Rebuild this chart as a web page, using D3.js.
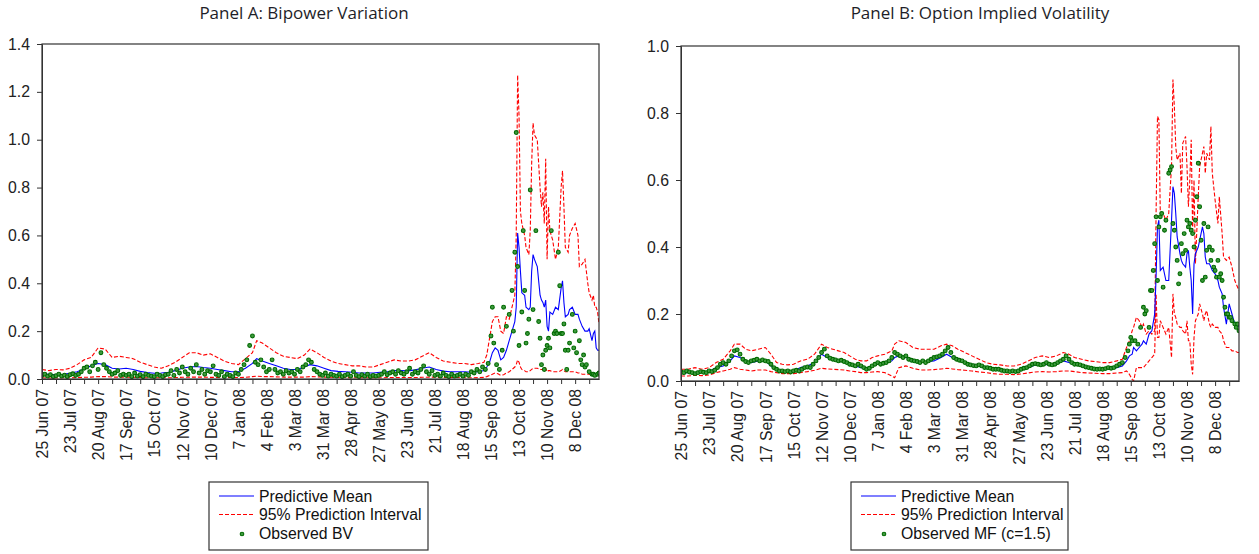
<!DOCTYPE html>
<html><head><meta charset="utf-8">
<script src="https://cdn.jsdelivr.net/npm/d3@7"></script>
<style>
body{margin:0;background:#fff;}
svg{display:block;}
text{font-family:"Liberation Sans",Arial,sans-serif;}
</style></head><body>
<svg id="c" width="1259" height="554"></svg>
<script>
// ---------- tick labels (every 20 observations) ----------
const tickLabels = ["25 Jun 07","23 Jul 07","20 Aug 07","17 Sep 07","15 Oct 07","12 Nov 07","10 Dec 07","7 Jan 08","4 Feb 08","3 Mar 08","31 Mar 08","28 Apr 08","27 May 08","23 Jun 08","21 Jul 08","18 Aug 08","15 Sep 08","13 Oct 08","10 Nov 08","8 Dec 08"];
const yTicksA = [0,0.2,0.4,0.6,0.8,1.0,1.2,1.4];
const yTicksB = [0,0.2,0.4,0.6,0.8,1.0];

// ---------- Panel A: Bipower Variation (lines) ----------
const idxA = [0,5,10,15,20,25,30,35,40,45,50,55,60,65,70,75,80,85,90,95,100,105,110,115,120,125,130,135,140,145,150,153,157,162,167,172,177,182,187,191,196,201,206,211,216,221,226,231,236,241,246,251,256,261,266,271,276,281,286,291,296,301,306,311,315,
317,319,321,323,325,327,329,331,333,335,337,338,339,340,341,342,344,345,347,348,349,350,351,353,355,356,357,358,359,360,361,362,364,366,368,370,371,372,373,375,376,378,380,382,383,385,387,389,390,392,393,394,395,396,397];
const upperA = [0.04,0.035,0.04,0.038,0.045,0.06,0.08,0.09,0.13,0.125,0.09,0.095,0.09,0.085,0.07,0.06,0.05,0.045,0.055,0.07,0.09,0.11,0.11,0.1,0.105,0.09,0.075,0.065,0.06,0.085,0.11,0.16,0.15,0.13,0.11,0.095,0.09,0.085,0.1,0.125,0.11,0.09,0.075,0.065,0.06,0.055,0.055,0.05,0.05,0.06,0.07,0.08,0.075,0.075,0.08,0.095,0.11,0.09,0.075,0.07,0.065,0.065,0.06,0.065,0.07,
0.1,0.17,0.24,0.26,0.26,0.2,0.19,0.26,0.25,0.3,0.35,0.6,1.27,1.1,0.7,0.65,0.6,0.55,0.52,0.62,0.9,1.07,1.02,1.0,0.8,0.72,0.78,0.65,0.92,0.5,0.72,0.62,0.58,0.5,0.55,0.8,0.87,0.72,0.55,0.53,0.6,0.63,0.65,0.6,0.47,0.48,0.5,0.4,0.36,0.33,0.35,0.3,0.3,0.28,0.23];
const meanA = [0.022,0.02,0.018,0.02,0.024,0.03,0.042,0.055,0.065,0.06,0.045,0.042,0.045,0.04,0.032,0.027,0.024,0.025,0.028,0.035,0.045,0.05,0.052,0.048,0.045,0.04,0.035,0.03,0.03,0.045,0.065,0.085,0.075,0.065,0.055,0.045,0.04,0.04,0.05,0.06,0.055,0.045,0.035,0.032,0.03,0.028,0.025,0.025,0.025,0.028,0.03,0.035,0.035,0.034,0.038,0.045,0.05,0.04,0.033,0.03,0.03,0.03,0.028,0.03,0.035,
0.05,0.07,0.11,0.13,0.12,0.08,0.09,0.12,0.16,0.2,0.24,0.3,0.61,0.55,0.45,0.36,0.35,0.3,0.29,0.3,0.45,0.52,0.5,0.47,0.35,0.33,0.32,0.3,0.33,0.22,0.2,0.28,0.27,0.3,0.29,0.38,0.41,0.32,0.26,0.27,0.29,0.3,0.27,0.27,0.25,0.22,0.2,0.2,0.21,0.16,0.19,0.2,0.13,0.12,0.12];
const lowerA = [0.005,0.004,0.004,0.005,0.005,0.006,0.007,0.008,0.01,0.01,0.008,0.008,0.008,0.007,0.006,0.005,0.005,0.005,0.005,0.006,0.007,0.008,0.008,0.008,0.007,0.007,0.006,0.006,0.006,0.007,0.01,0.012,0.01,0.01,0.009,0.008,0.008,0.008,0.008,0.01,0.009,0.008,0.007,0.006,0.006,0.005,0.005,0.005,0.005,0.005,0.006,0.006,0.006,0.006,0.006,0.007,0.008,0.007,0.006,0.006,0.006,0.006,0.005,0.006,0.007,
0.01,0.015,0.02,0.025,0.022,0.015,0.018,0.025,0.03,0.04,0.05,0.06,0.08,0.07,0.05,0.04,0.035,0.03,0.03,0.035,0.04,0.045,0.045,0.045,0.04,0.04,0.04,0.035,0.045,0.03,0.035,0.035,0.03,0.03,0.03,0.035,0.04,0.035,0.03,0.03,0.03,0.03,0.03,0.025,0.025,0.02,0.02,0.02,0.02,0.015,0.015,0.015,0.012,0.01,0.01];

// ---------- Panel A: observed BV ----------
const obsIdxA = d3.range(0, 315, 2).concat([316,318,320,321,322,324,326,328,329,331,333,335,336,337,338,339,340,342,343,344,345,346,347,348,350,352,354,355,356,357,358,359,360,361,362,363,365,366,367,368,369,370,371,372,373,374,375,376,378,379,380,381,383,384,385,386,387,388,390,392,393,394,396,397]);
const obsA = [0.015,0.02,0.012,0.018,0.01,0.014,0.02,0.012,0.016,0.01,0.018,0.022,0.015,0.02,0.03,
0.045,0.05,0.03,0.055,0.07,0.04,0.11,0.06,0.045,0.03,0.02,0.025,0.035,0.015,0.02,
0.015,0.02,0.01,0.025,0.012,0.018,0.01,0.02,0.015,0.012,0.01,0.02,0.015,0.01,0.018,
0.02,0.035,0.015,0.04,0.025,0.05,0.03,0.02,0.045,0.03,0.06,0.025,0.04,0.02,0.035,
0.03,0.055,0.02,0.015,0.03,0.01,0.02,0.015,0.01,0.025,0.02,0.04,0.06,0.08,0.14,
0.18,0.07,0.06,0.08,0.05,0.03,0.04,0.08,0.04,0.025,0.03,0.02,0.035,0.025,0.03,
0.02,0.04,0.03,0.05,0.06,0.08,0.07,0.04,0.03,0.02,0.015,0.025,0.012,0.02,0.015,
0.012,0.02,0.01,0.015,0.02,0.012,0.03,0.015,0.01,0.018,0.012,0.02,0.01,0.015,0.012,
0.015,0.02,0.03,0.018,0.025,0.03,0.02,0.035,0.025,0.02,0.03,0.045,0.02,0.03,0.025,
0.04,0.055,0.03,0.02,0.035,0.015,0.02,0.012,0.025,0.015,0.01,0.02,0.012,0.015,0.02,
0.012,0.02,0.015,0.03,0.025,0.04,0.03,0.05,
0.04,0.065,0.18,0.3,0.15,0.06,0.04,0.12,0.3,0.22,0.27,0.37,0.2,0.53,1.03,0.47,0.14,0.28,0.62,0.37,0.15,0.19,0.25,0.79,0.29,0.62,0.24,0.17,0.06,0.1,0.04,0.12,0.14,0.17,0.13,0.62,0.19,0.2,0.19,0.53,0.39,0.19,0.19,0.23,0.12,0.04,0.12,0.15,0.27,0.13,0.2,0.11,0.16,0.08,0.06,0.1,0.05,0.06,0.03,0.02,0.02,0.015,0.02,0.025];

// ---------- Panel B: Option Implied Volatility (lines) ----------
const idxB = [0,5,10,15,20,25,30,35,38,42,46,50,55,60,64,68,72,76,80,85,90,95,100,104,108,112,116,120,124,128,132,136,140,145,150,152,155,160,165,170,175,180,185,189,193,197,202,207,212,217,222,227,232,237,242,247,252,257,262,267,272,276,280,285,290,295,300,305,310,314,
317,319,321,322,324,326,328,329,331,333,335,337,338,339,340,341,343,345,347,349,350,351,352,353,355,356,357,359,360,361,362,363,364,365,366,368,369,371,372,373,374,376,377,378,380,382,383,385,386,388,390,392,394,396,397];
const upperB = [0.035,0.035,0.04,0.035,0.04,0.055,0.065,0.09,0.11,0.11,0.095,0.09,0.095,0.1,0.08,0.055,0.05,0.048,0.05,0.06,0.065,0.08,0.11,0.1,0.095,0.09,0.085,0.075,0.065,0.06,0.06,0.07,0.075,0.08,0.09,0.11,0.12,0.115,0.1,0.095,0.095,0.095,0.105,0.11,0.105,0.095,0.085,0.075,0.065,0.055,0.05,0.048,0.045,0.045,0.05,0.06,0.07,0.075,0.07,0.075,0.085,0.08,0.07,0.065,0.06,0.058,0.055,0.055,0.06,0.065,
0.1,0.12,0.15,0.16,0.19,0.18,0.16,0.17,0.14,0.15,0.14,0.15,0.5,0.79,0.78,0.5,0.5,0.48,0.5,0.64,0.9,0.82,0.7,0.66,0.68,0.56,0.71,0.73,0.64,0.52,0.6,0.72,0.45,0.6,0.35,0.55,0.64,0.68,0.7,0.62,0.68,0.66,0.76,0.62,0.54,0.47,0.55,0.44,0.37,0.36,0.37,0.34,0.3,0.28,0.27];
const meanB = [0.025,0.025,0.025,0.026,0.028,0.04,0.045,0.06,0.075,0.07,0.06,0.055,0.06,0.06,0.045,0.035,0.032,0.03,0.03,0.04,0.045,0.055,0.08,0.07,0.065,0.062,0.058,0.05,0.045,0.04,0.038,0.045,0.05,0.052,0.06,0.07,0.075,0.07,0.063,0.058,0.058,0.06,0.07,0.08,0.07,0.062,0.055,0.05,0.045,0.04,0.035,0.032,0.03,0.03,0.035,0.04,0.048,0.05,0.048,0.05,0.06,0.055,0.05,0.045,0.04,0.038,0.036,0.036,0.04,0.045,
0.06,0.075,0.08,0.1,0.09,0.1,0.11,0.12,0.11,0.14,0.15,0.2,0.31,0.46,0.48,0.33,0.34,0.3,0.3,0.48,0.58,0.56,0.5,0.43,0.38,0.36,0.35,0.34,0.38,0.39,0.34,0.3,0.2,0.35,0.38,0.4,0.42,0.46,0.44,0.37,0.35,0.35,0.34,0.33,0.32,0.3,0.28,0.26,0.22,0.17,0.23,0.2,0.17,0.17,0.16];
const lowerB = [0.015,0.015,0.017,0.016,0.018,0.025,0.03,0.035,0.04,0.035,0.033,0.03,0.033,0.033,0.028,0.025,0.022,0.022,0.022,0.025,0.028,0.032,0.038,0.036,0.035,0.034,0.033,0.03,0.028,0.025,0.025,0.027,0.028,0.025,0.015,0.01,0.04,0.045,0.038,0.033,0.033,0.034,0.036,0.038,0.036,0.034,0.032,0.03,0.027,0.025,0.022,0.02,0.02,0.019,0.021,0.024,0.027,0.028,0.027,0.028,0.03,0.03,0.028,0.025,0.024,0.023,0.022,0.022,0.024,0.025,
0.03,0.02,0.005,0.0,0.04,0.04,0.04,0.04,0.05,0.06,0.07,0.08,0.26,0.13,0.13,0.18,0.16,0.14,0.16,0.07,0.26,0.2,0.19,0.17,0.16,0.16,0.15,0.14,0.18,0.12,0.12,0.05,0.02,0.13,0.18,0.2,0.23,0.2,0.18,0.2,0.21,0.17,0.16,0.17,0.16,0.16,0.15,0.14,0.12,0.1,0.1,0.09,0.09,0.085,0.085];

// ---------- Panel B: observed MF (c=1.5) ----------
const obsIdxB = d3.range(0, 317, 2).concat([318,319,320,321,323,325,327,329,330,331,333,334,335,336,337,338,339,340,341,342,343,344,345,347,348,349,350,351,352,353,354,355,356,357,358,359,360,361,362,363,364,365,366,367,368,369,370,371,372,373,374,375,376,377,378,379,380,381,382,383,384,385,386,387,388,389,390,391,392,394,395,396,397]);
const obsB = [0.028,0.025,0.03,0.027,0.025,0.022,0.025,0.028,0.026,0.025,0.03,0.028,0.032,
0.04,0.05,0.055,0.05,0.06,0.075,0.09,0.093,0.08,0.065,0.058,0.055,0.06,
0.062,0.065,0.06,0.063,0.06,0.058,0.05,0.04,0.035,0.03,0.03,0.028,0.03,
0.027,0.03,0.032,0.03,0.035,0.04,0.042,0.04,0.05,0.06,0.07,0.085,0.095,
0.075,0.068,0.065,0.063,0.06,0.062,0.058,0.055,0.05,0.048,0.045,0.05,0.045,
0.04,0.035,0.038,0.045,0.05,0.055,0.05,0.053,0.055,0.06,0.07,0.085,0.08,
0.075,0.07,0.075,0.065,0.062,0.06,0.058,0.055,0.06,0.055,0.06,0.065,0.07,
0.072,0.075,0.08,0.09,0.1,0.085,0.07,0.065,0.062,0.06,0.055,0.05,0.048,
0.046,0.045,0.048,0.045,0.04,0.04,0.038,0.035,0.035,0.035,0.032,0.03,0.03,
0.028,0.03,0.028,0.03,0.035,0.038,0.04,0.045,0.05,0.052,0.05,0.048,0.05,
0.055,0.05,0.048,0.05,0.055,0.06,0.065,0.075,0.065,0.055,0.05,0.05,0.048,
0.045,0.042,0.04,0.038,0.036,0.035,0.036,0.035,0.037,0.04,0.038,0.04,0.045,
0.05,0.055,0.07,
0.09,0.11,0.13,0.12,0.12,0.11,0.16,0.22,0.2,0.21,0.16,0.27,0.27,0.33,0.41,0.49,0.3,0.46,0.49,0.5,0.28,0.45,0.48,0.62,0.63,0.64,0.47,0.45,0.4,0.36,0.29,0.32,0.41,0.38,0.44,0.39,0.48,0.46,0.47,0.45,0.44,0.4,0.48,0.55,0.65,0.52,0.42,0.3,0.47,0.31,0.39,0.46,0.4,0.36,0.39,0.34,0.33,0.31,0.36,0.31,0.32,0.3,0.25,0.22,0.2,0.2,0.19,0.19,0.18,0.17,0.16,0.17,0.15];

// ---------- drawing ----------
const svg = d3.select("#c");
const FONT = "15.8px";
const GREEN = "#006a00";
const GREEN_FILL = "#3f9a3f";

function panel(cfg) {
  const x = d3.scaleLinear().domain([0, 397]).range([cfg.left, cfg.right]);
  const y = d3.scaleLinear().domain([0, cfg.ymax]).range([cfg.bottom, cfg.top]);
  const g = svg.append("g");

  // title
  g.append("text").attr("x", cfg.titleX).attr("y", 19).attr("text-anchor", "middle")
    .style("font-family", "'Open Sans','Noto Sans',sans-serif").style("font-size", "17px")
    .attr("fill", "#1e1e28").text(cfg.title);

  const clipId = "clip" + cfg.id;
  svg.append("clipPath").attr("id", clipId).append("rect")
    .attr("x", cfg.left).attr("y", cfg.top - 2).attr("width", cfg.right - cfg.left).attr("height", cfg.bottom - cfg.top + 2);

  const plot = g.append("g").attr("clip-path", `url(#${clipId})`);
  const line = (idx) => d3.line().x((d, i) => x(idx[i])).y(d => y(d));

  [cfg.upper, cfg.lower].forEach(s => {
    plot.append("path").datum(s).attr("d", line(cfg.idx)).attr("fill", "none")
      .attr("stroke", "#ff0000").attr("stroke-width", 1.1).attr("stroke-dasharray", "4,2");
  });
  plot.append("path").datum(cfg.mean).attr("d", line(cfg.idx)).attr("fill", "none")
    .attr("stroke", "#0000ff").attr("stroke-width", 1.1);

  plot.selectAll("circle.obs").data(cfg.obs).join("circle").attr("class", "obs")
    .attr("cx", (d, i) => x(cfg.obsIdx[i])).attr("cy", d => y(d)).attr("r", 1.9)
    .attr("fill", GREEN_FILL).attr("stroke", GREEN).attr("stroke-width", 1.1);

  // frame
  g.append("rect").attr("x", cfg.left).attr("y", cfg.top).attr("width", cfg.right - cfg.left)
    .attr("height", cfg.bottom - cfg.top).attr("fill", "none").attr("stroke", "#333").attr("stroke-width", 1.2);

  // y axis
  const ya = g.append("g").attr("transform", `translate(${cfg.left},0)`)
    .call(d3.axisLeft(y).tickValues(cfg.yTicks).tickFormat(d3.format(".1f")).tickSize(5).tickSizeOuter(0).tickPadding(7));
  ya.selectAll("text").style("font-size", FONT).attr("fill", "#222");
  ya.selectAll("line,path").attr("stroke", "#333");

  // x axis
  const xa = g.append("g").attr("transform", `translate(0,${cfg.bottom})`)
    .call(d3.axisBottom(x).tickValues(d3.range(0, 391, 10)).tickSize(5).tickSizeOuter(0)
      .tickFormat(d => d % 20 === 0 ? tickLabels[d / 20] : ""));
  xa.selectAll("text").style("font-size", FONT).attr("fill", "#222")
    .attr("text-anchor", "end").attr("transform", "rotate(-90)")
    .attr("x", -10).attr("y", 0).attr("dy", "0.36em");
  xa.selectAll("line,path").attr("stroke", "#333");

  // legend
  const L = cfg.legend;
  const lg = g.append("g");
  lg.append("rect").attr("x", L.x).attr("y", 482).attr("width", L.w).attr("height", 68)
    .attr("fill", "#fff").attr("stroke", "#333").attr("stroke-width", 1.2);
  const rows = [496, 514.5, 533];
  lg.append("line").attr("x1", L.x + 10).attr("x2", L.x + 45).attr("y1", rows[0]).attr("y2", rows[0])
    .attr("stroke", "#0000ff").attr("stroke-width", 1.1);
  lg.append("line").attr("x1", L.x + 10).attr("x2", L.x + 45).attr("y1", rows[1]).attr("y2", rows[1])
    .attr("stroke", "#ff0000").attr("stroke-width", 1.1).attr("stroke-dasharray", "4,2");
  lg.append("circle").attr("cx", L.x + 33).attr("cy", rows[2] + 1).attr("r", 1.8)
    .attr("fill", GREEN_FILL).attr("stroke", GREEN).attr("stroke-width", 1.1);
  ["Predictive Mean", "95% Prediction Interval", cfg.obsName].forEach((t, k) => {
    lg.append("text").attr("x", L.x + 50).attr("y", rows[k]).attr("dy", "0.36em")
      .style("font-size", FONT).attr("fill", "#111").text(t);
  });
}

panel({id: "A", title: "Panel A: Bipower Variation", titleX: 304,
  left: 42, right: 599, top: 44, bottom: 379, ymax: 1.4, yTicks: yTicksA,
  idx: idxA, upper: upperA, mean: meanA, lower: lowerA, obsIdx: obsIdxA, obs: obsA,
  obsName: "Observed BV", legend: {x: 209, w: 219}});

panel({id: "B", title: "Panel B: Option Implied Volatility", titleX: 980,
  left: 681, right: 1239, top: 46, bottom: 381, ymax: 1.0, yTicks: yTicksB,
  idx: idxB, upper: upperB, mean: meanB, lower: lowerB, obsIdx: obsIdxB, obs: obsB,
  obsName: "Observed MF (c=1.5)", legend: {x: 851, w: 217}});
</script>
</body></html>
